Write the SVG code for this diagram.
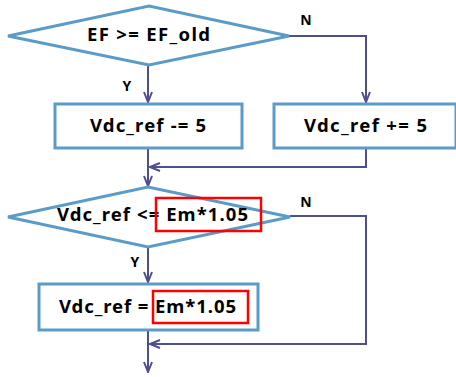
<svg xmlns="http://www.w3.org/2000/svg" width="456" height="377" viewBox="0 0 456 377">
<defs>
<style>
.shape{fill:#fff;stroke:#5b9bc8;stroke-width:3}
.conn{fill:none;stroke:#4f4f8f;stroke-width:2}
.lbl{font-family:"Noto Sans","Liberation Sans",sans-serif;font-weight:bold;font-size:18.5px;fill:#000}
.yn{font-family:"Noto Sans","Liberation Sans",sans-serif;font-weight:bold;font-size:14px;fill:#000}
.hl{fill:none;stroke:#ff0000;stroke-width:2.5}
</style>
<marker id="arr" viewBox="0 0 12 10" refX="11" refY="5" markerWidth="12" markerHeight="10" markerUnits="userSpaceOnUse" orient="auto">
<path d="M1,1 L11,5 L1,9" fill="none" stroke="#4f4f8f" stroke-width="2"/>
</marker>
</defs>
<rect width="456" height="377" fill="#fff"/>
<g id="connectors">
<path class="conn" d="M148,65 V102" marker-end="url(#arr)"/>
<path class="conn" d="M289,36 H366 V102" marker-end="url(#arr)"/>
<path class="conn" d="M366,148 V167 H150" marker-end="url(#arr)"/>
<path class="conn" d="M148,148 V186" marker-end="url(#arr)"/>
<path class="conn" d="M148,247 V282" marker-end="url(#arr)"/>
<path class="conn" d="M290,216 H366 V344 H150" marker-end="url(#arr)"/>
<path class="conn" d="M148,330 V372" marker-end="url(#arr)"/>
<text class="yn" x="127" y="91" text-anchor="middle">Y</text>
<text class="yn" x="306" y="25" text-anchor="middle">N</text>
<text class="yn" x="135" y="267" text-anchor="middle">Y</text>
<text class="yn" x="306" y="207" text-anchor="middle">N</text>
</g>
<g id="cond1">
<polygon class="shape" points="8,36 149,6 289,36 149,65"/>
<text class="lbl" x="148.5" y="41" text-anchor="middle" textLength="123" lengthAdjust="spacing">EF &gt;= EF_old</text>
</g>
<g id="dec">
<rect class="shape" x="55" y="104" width="187" height="44"/>
<text class="lbl" x="148" y="132" text-anchor="middle" textLength="116" lengthAdjust="spacing">Vdc_ref -= 5</text>
</g>
<g id="inc">
<rect class="shape" x="274" y="104" width="182" height="44"/>
<text class="lbl" x="365.5" y="132" text-anchor="middle" textLength="123" lengthAdjust="spacing">Vdc_ref += 5</text>
</g>
<g id="cond2">
<polygon class="shape" points="8,217 148,187 290,217 148,247"/>
<text class="lbl" x="152.5" y="221" text-anchor="middle" textLength="191" lengthAdjust="spacing">Vdc_ref &lt;= Em*1.05</text>
<rect class="hl" x="156" y="198" width="105" height="33"/>
</g>
<g id="assign">
<rect class="shape" x="39" y="284" width="219" height="46"/>
<text class="lbl" x="147.5" y="313" text-anchor="middle" textLength="177" lengthAdjust="spacing">Vdc_ref = Em*1.05</text>
<rect class="hl" x="153" y="291" width="95" height="32"/>
</g>
</svg>
